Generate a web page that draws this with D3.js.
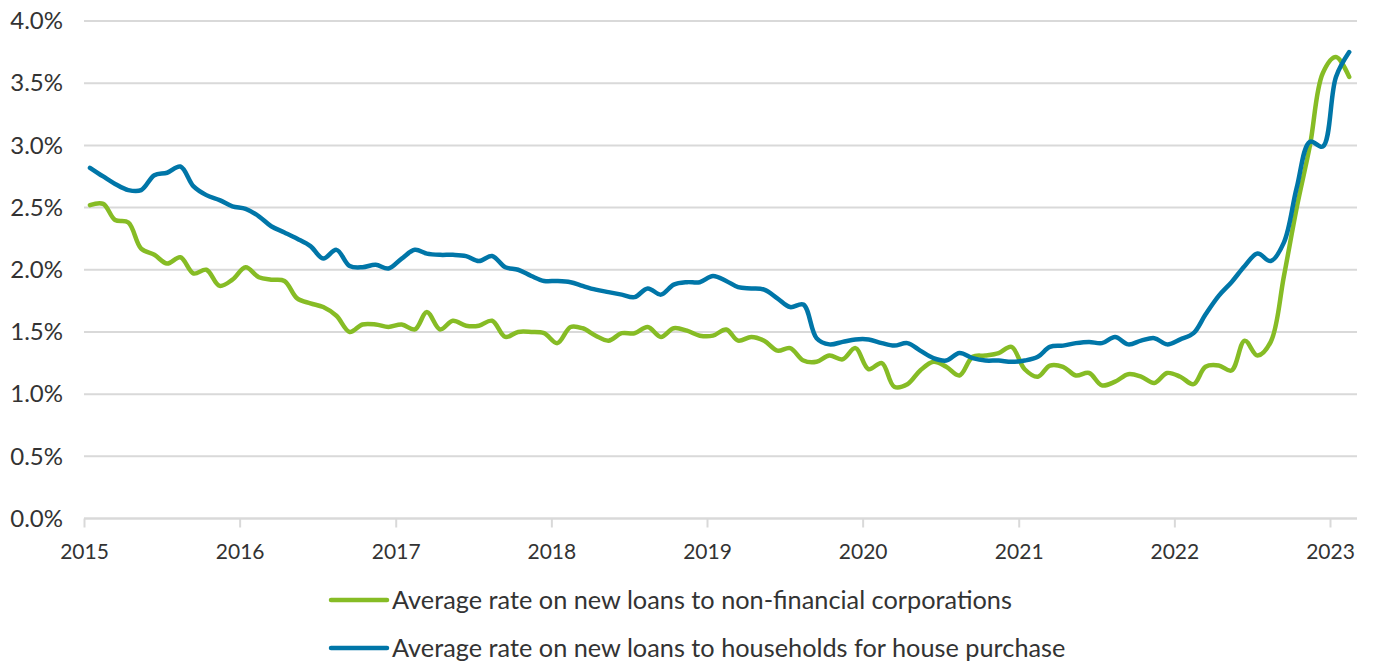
<!DOCTYPE html>
<html>
<head>
<meta charset="utf-8">
<script src="https://cdn.jsdelivr.net/npm/d3@7"></script>
<style>
  html, body { margin: 0; padding: 0; background: #ffffff; }
  svg { display: block; }
  text { font-family: Lato, "Open Sans", sans-serif; fill: #333333; }
</style>
</head>
<body>
<svg id="chart" width="1384" height="664"></svg>
<script>
// Monthly series, January 2015 onwards (percent)
const startYear = 2015;
const startMonth = 0;

const corporateRates = [
  2.52, 2.53, 2.40, 2.38, 2.17, 2.12, 2.05, 2.10, 1.97, 2.00, 1.87, 1.92,
  2.02, 1.94, 1.92, 1.91, 1.77, 1.73, 1.70, 1.63, 1.50, 1.56, 1.56, 1.54,
  1.56, 1.52, 1.66, 1.52, 1.59, 1.55, 1.55, 1.59, 1.46, 1.50, 1.50, 1.49,
  1.41, 1.54, 1.53, 1.47, 1.43, 1.49, 1.49, 1.54, 1.46, 1.53, 1.51, 1.47,
  1.47, 1.52, 1.43, 1.46, 1.43, 1.35, 1.37, 1.27, 1.26, 1.31, 1.28, 1.37,
  1.20, 1.25, 1.06, 1.08, 1.19, 1.26, 1.22, 1.15, 1.30, 1.31, 1.33, 1.38,
  1.20, 1.14, 1.23, 1.22, 1.15, 1.17, 1.07, 1.10, 1.16, 1.14, 1.09, 1.17,
  1.14, 1.08, 1.22, 1.23, 1.19, 1.43, 1.31, 1.42, 1.95, 2.50, 3.00, 3.58,
  3.71, 3.55
];

const householdRates = [
  2.82, 2.75, 2.69, 2.64, 2.64, 2.76, 2.78, 2.83, 2.67, 2.60, 2.56, 2.51,
  2.49, 2.43, 2.35, 2.30, 2.25, 2.19, 2.09, 2.16, 2.03, 2.02, 2.04, 2.01,
  2.09, 2.16, 2.13, 2.12, 2.12, 2.11, 2.07, 2.11, 2.02, 2.00, 1.95, 1.91,
  1.91, 1.90, 1.87, 1.84, 1.82, 1.80, 1.78, 1.85, 1.80, 1.88, 1.90, 1.90,
  1.95, 1.91, 1.86, 1.85, 1.84, 1.77, 1.70, 1.72, 1.45, 1.40, 1.42, 1.44,
  1.44, 1.41, 1.39, 1.41, 1.35, 1.29, 1.27, 1.33, 1.29, 1.27, 1.27, 1.26,
  1.27, 1.30, 1.38, 1.39, 1.41, 1.42, 1.41, 1.46, 1.40, 1.43, 1.45, 1.40,
  1.44, 1.49, 1.64, 1.79, 1.90, 2.03, 2.13, 2.07, 2.22, 2.66, 3.03, 2.99,
  3.55, 3.75
];

const yearTicks = [2015, 2016, 2017, 2018, 2019, 2020, 2021, 2022, 2023];
const rateTicks = [0, 0.5, 1.0, 1.5, 2.0, 2.5, 3.0, 3.5, 4.0];

const seriesNames = [
  "Average rate on new loans to non-financial corporations",
  "Average rate on new loans to households for house purchase"
];
const seriesColors = ["#86bc25", "#0076a8"];

// Layout
const plot = { left: 84, right: 1357, top: 21, bottom: 518.5 };

const svg = d3.select("#chart");

const x = d3.scaleTime()
  .domain([new Date(2015, 0, 1), new Date(2023, 0, 1)])
  .range([plot.left, 1330]);

const y = d3.scaleLinear()
  .domain([0, 4])
  .range([plot.bottom, plot.top]);

// Each observation sits at the middle of its month
const toPoints = values => values.map((v, i) => ({
  date: new Date(startYear, startMonth + i, 15),
  value: v
}));

// Horizontal gridlines
svg.append("g")
  .selectAll("line")
  .data(rateTicks)
  .join("line")
  .attr("x1", plot.left)
  .attr("x2", plot.right)
  .attr("y1", d => y(d))
  .attr("y2", d => y(d))
  .attr("stroke", "#d9d9d9")
  .attr("stroke-width", 2);

// Y axis labels
const yAxis = d3.axisLeft(y)
  .tickValues(rateTicks)
  .tickFormat(d => d3.format(".1f")(d) + "%")
  .tickSize(0)
  .tickPadding(21);

svg.append("g")
  .attr("transform", `translate(${plot.left},0)`)
  .call(yAxis)
  .call(g => g.select(".domain").remove())
  .call(g => g.selectAll("text")
    .attr("font-size", 24)
    .attr("font-family", "Lato, sans-serif")
    .attr("fill", "#333333"));

// X axis with year ticks
const xAxis = d3.axisBottom(x)
  .tickValues(yearTicks.map(yr => new Date(yr, 0, 1)))
  .tickFormat(d3.timeFormat("%Y"))
  .tickSize(9)
  .tickPadding(17);

svg.append("g")
  .attr("transform", `translate(0,${plot.bottom})`)
  .call(xAxis)
  .call(g => g.select(".domain")
    .attr("d", `M${plot.left},0H${plot.right}`)
    .attr("stroke", "#d9d9d9")
    .attr("stroke-width", 2))
  .call(g => g.selectAll(".tick line")
    .attr("stroke", "#d9d9d9")
    .attr("stroke-width", 2))
  .call(g => g.selectAll("text")
    .attr("font-size", 21)
    .attr("font-family", "Lato, sans-serif")
    .attr("fill", "#333333"));

// Smoothed lines
const line = d3.line()
  .x(d => x(d.date))
  .y(d => y(d.value))
  .curve(d3.curveCatmullRom.alpha(0.5));

const series = [corporateRates, householdRates];

svg.append("g")
  .selectAll("path")
  .data(series)
  .join("path")
  .attr("d", d => line(toPoints(d)))
  .attr("fill", "none")
  .attr("stroke", (d, i) => seriesColors[i])
  .attr("stroke-width", 4.5)
  .attr("stroke-linejoin", "round")
  .attr("stroke-linecap", "round");

// Legend
const legend = svg.append("g");
const legendRows = [600, 648];

seriesNames.forEach((name, i) => {
  const row = legend.append("g").attr("transform", `translate(331,${legendRows[i]})`);
  row.append("line")
    .attr("x1", 0).attr("x2", 56)
    .attr("y1", 0).attr("y2", 0)
    .attr("stroke", seriesColors[i])
    .attr("stroke-width", 4.5)
    .attr("stroke-linecap", "round");
  row.append("text")
    .attr("x", 61)
    .attr("y", 0)
    .attr("dy", "0.35em")
    .attr("font-size", 25.3)
    .attr("fill", "#333333")
    .text(name);
});
</script>
</body>
</html>
